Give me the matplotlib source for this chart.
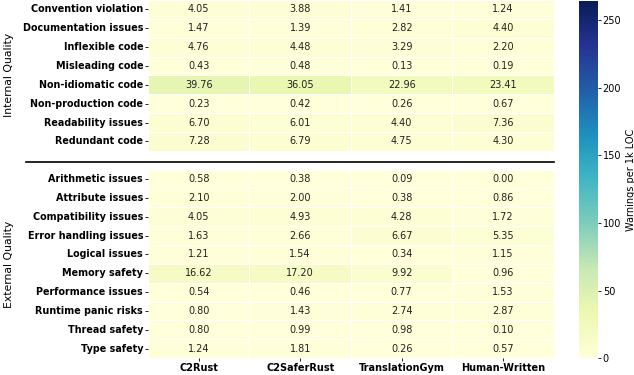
import numpy as np
import pandas as pd
import matplotlib
matplotlib.use("Agg")
import matplotlib.pyplot as plt
import seaborn as sns

tools = ["C2Rust", "C2SaferRust", "TranslationGym", "Human-Written"]

internal_cats = ["Convention violation", "Documentation issues", "Inflexible code",
                 "Misleading code", "Non-idiomatic code", "Non-production code",
                 "Readability issues", "Redundant code"]
internal_vals = [
    [4.05, 3.88, 1.41, 1.24],
    [1.47, 1.39, 2.82, 4.40],
    [4.76, 4.48, 3.29, 2.20],
    [0.43, 0.48, 0.13, 0.19],
    [39.76, 36.05, 22.96, 23.41],
    [0.23, 0.42, 0.26, 0.67],
    [6.70, 6.01, 4.40, 7.36],
    [7.28, 6.79, 4.75, 4.30],
]

external_cats = ["Arithmetic issues", "Attribute issues", "Compatibility issues",
                 "Error handling issues", "Logical issues", "Memory safety",
                 "Performance issues", "Runtime panic risks", "Thread safety",
                 "Type safety"]
external_vals = [
    [0.58, 0.38, 0.09, 0.00],
    [2.10, 2.00, 0.38, 0.86],
    [4.05, 4.93, 4.28, 1.72],
    [1.63, 2.66, 6.67, 5.35],
    [1.21, 1.54, 0.34, 1.15],
    [16.62, 17.20, 9.92, 0.96],
    [0.54, 0.46, 0.77, 1.53],
    [0.80, 1.43, 2.74, 2.87],
    [0.80, 0.99, 0.98, 0.10],
    [1.24, 1.81, 0.26, 0.57],
]

vmax = 264

# internal block, empty spacer row, external block
rows = internal_vals + [[np.nan] * 4] + external_vals
labels = internal_cats + [""] + external_cats
df = pd.DataFrame(rows, index=labels, columns=tools)
annot = df.map(lambda v: "" if np.isnan(v) else f"{v:.2f}")

fig = plt.figure(figsize=(6.34, 3.75), dpi=100)
ax = fig.add_axes([0.2335, 0.045, 0.640, 0.955])
cax = fig.add_axes([0.913, 0.045, 0.030, 0.952])

sns.heatmap(df, ax=ax, cbar_ax=cax, cmap="YlGnBu", vmin=0, vmax=vmax,
            annot=annot, fmt="", annot_kws={"fontsize": 7, "color": "#222222"},
            linewidths=0.5, linecolor="white")

ax.set_yticks(np.arange(len(labels)) + 0.5)
ax.set_yticklabels(labels, fontsize=6.9, fontweight="bold", rotation=0)
ax.set_xticklabels(tools, fontsize=7, fontweight="bold", rotation=0)
ax.tick_params(axis="both", length=2, width=0.6, pad=1.5)
ax.set_xlabel("")
ax.set_ylabel("")
# hide tick on spacer row
ax.yaxis.get_major_ticks()[len(internal_cats)].tick1line.set_visible(False)

# separator line through spacer row
sep = len(internal_cats) + 0.6
ax.plot([-1.2, len(tools)], [sep, sep], color="black", lw=1.2, clip_on=False)

# group labels
n_int = len(internal_cats)
ax.text(-1.37, n_int / 2, "Internal Quality", rotation=90, ha="center", va="center",
        fontsize=7.8)
ax.text(-1.37, n_int + 1 + len(external_cats) / 2, "External Quality", rotation=90,
        ha="center", va="center", fontsize=7.8)

cax.tick_params(labelsize=7, length=2, width=0.6, pad=1.5)
cax.set_ylabel("Warnings per 1k LOC", fontsize=7, labelpad=3)

fig.savefig("out.png", dpi=100)
